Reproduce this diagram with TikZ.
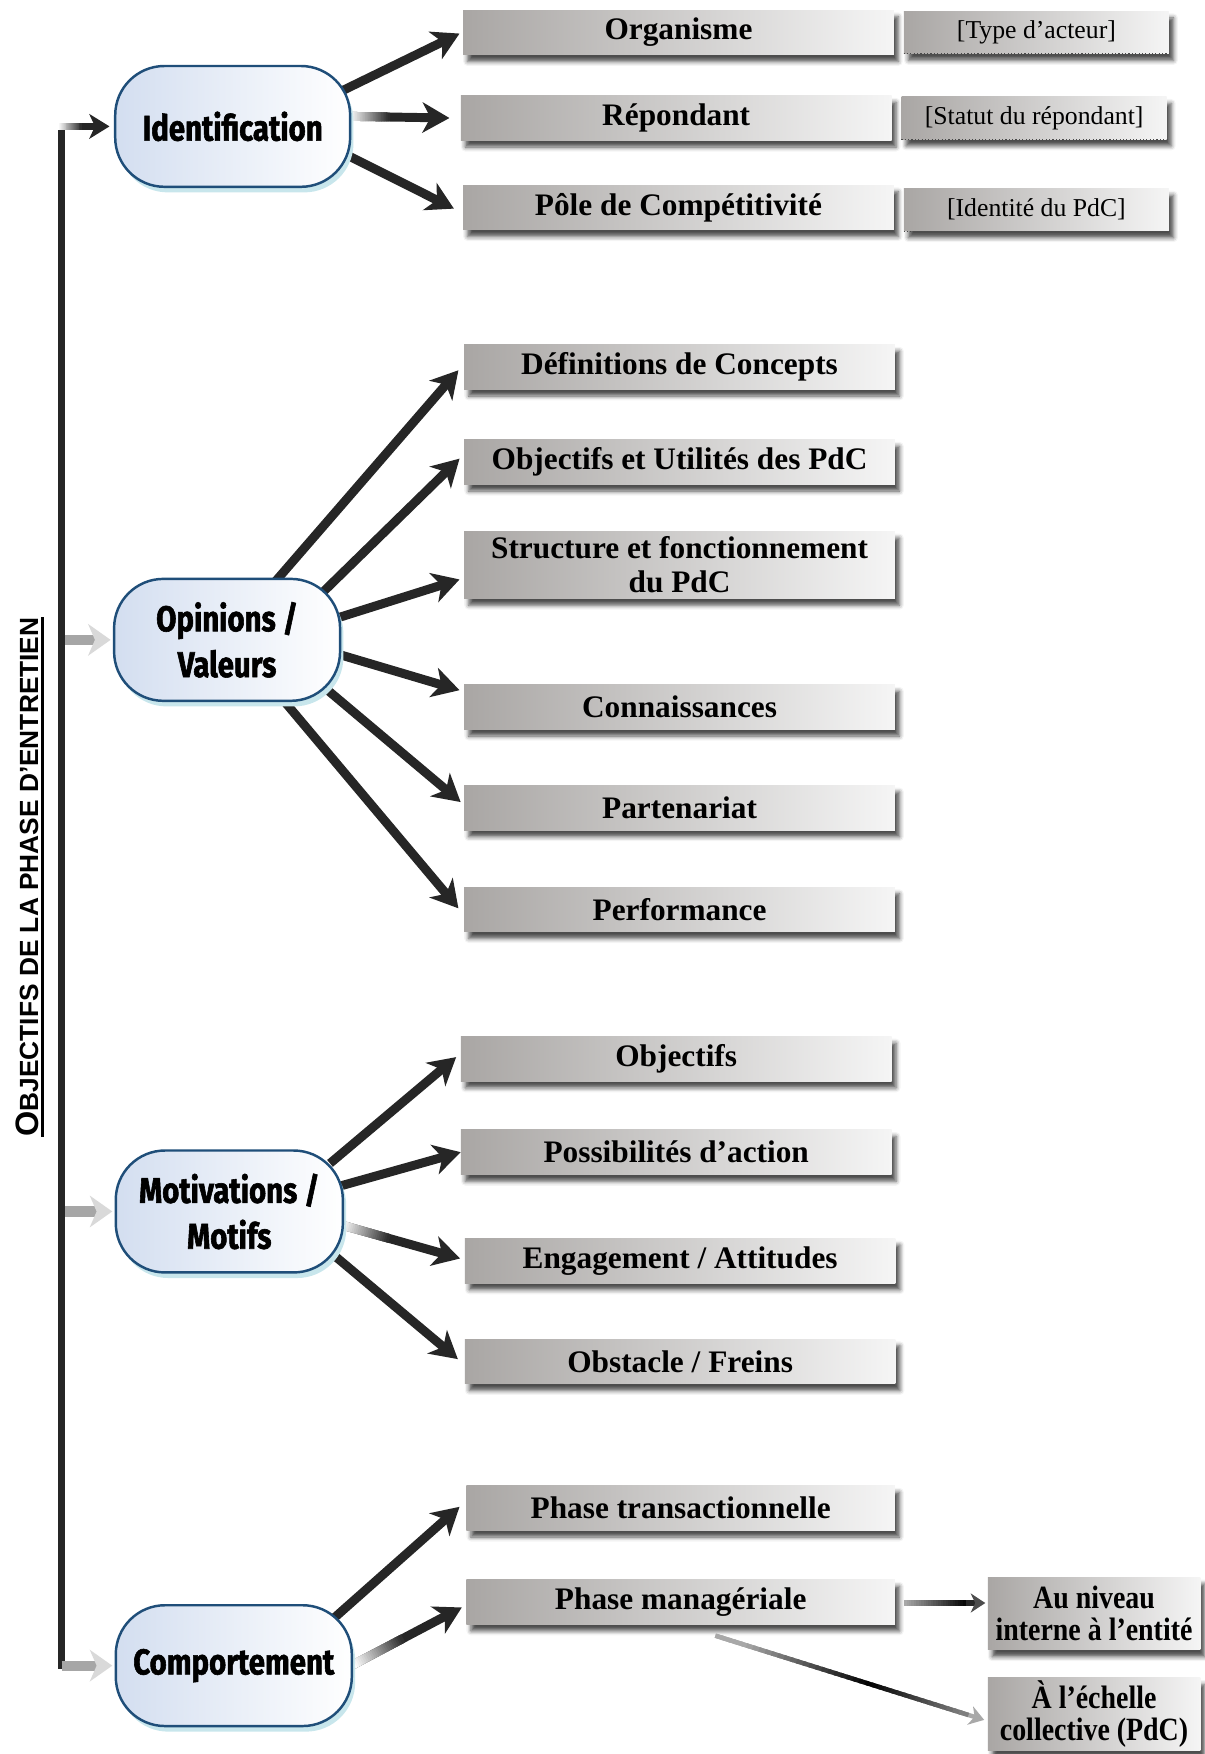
\documentclass[tikz,border=0pt]{standalone}
\usepackage{fontspec}
\setmainfont{Liberation Serif}
\newfontfamily\blufont{Fira Sans}[FakeStretch=0.82, FakeBold=1.6]
\newfontfamily\vtfont{Liberation Sans}
\newfontfamily\condserif{Liberation Serif}[FakeStretch=0.86]
\usetikzlibrary{arrows.meta,calc,shadows.blur,backgrounds}
\definecolor{arrowc}{HTML}{262626}
\definecolor{boxl}{HTML}{A9A6A4}
\definecolor{boxr}{HTML}{F5F5F5}
\definecolor{nodeb}{HTML}{1F4E79}
\definecolor{nodel}{HTML}{D3DEF0}
\definecolor{glow}{HTML}{C8E6EC}
\definecolor{stubc}{HTML}{A6A6A6}
\definecolor{lgr}{HTML}{A8A8A8}
\tikzset{
  graybox/.style={left color=boxl, right color=boxr, minimum width=385pt, minimum height=40pt,
    inner sep=0pt, align=center, font=\fontsize{28}{30}\selectfont\bfseries,
    blur shadow={shadow xshift=4pt, shadow yshift=-6pt, shadow blur radius=4pt, shadow opacity=70}},
  tagbox/.style={graybox, minimum width=237pt, minimum height=38pt, font=\fontsize{23}{25}\selectfont},
  sidebox/.style={graybox, minimum width=190pt, minimum height=65pt, font=\condserif\bfseries\fontsize{29}{29}\selectfont},
  blunode/.style={draw=nodeb, line width=2.2pt, rounded corners=44pt, left color=nodel, right color=white,
    preaction={fill=glow, transform canvas={xshift=3pt, yshift=-5pt}},
    font=\blufont\bfseries\fontsize{32}{41}\selectfont, align=center, inner sep=0pt},
  arr/.style={line width=8pt, draw=arrowc, -{Stealth[length=24pt, width=27pt, inset=7pt]}},
  gstub/.style={line width=9pt, draw=stubc, -{Stealth[length=20pt, width=28pt, inset=6pt, color=gray!30]}},
  trunk/.style={line width=6pt, draw=arrowc},
}
\newcommand\gradseg[6]{%
  \foreach \k in {0,...,24}{%
    \pgfmathsetmacro\gA{#3*\k/25}%
    \pgfmathsetmacro\gB{#3*(\k+1.5)/25}%
    \pgfmathtruncatemacro\gC{4*\k}%
    \draw[line width=#6, draw=#5!\gC!#4] ($(#1)!\gA!(#2)$) -- ($(#1)!\gB!(#2)$);}}
\begin{document}
\begin{tikzpicture}[x=1pt,y=-1pt]
\useasboundingbox (0,0) rectangle (1077,1568);

% blue category nodes
\node[blunode, minimum width=210pt, minimum height=108pt] (idn) at (208,113) {Identification};
\node[blunode, minimum width=202pt, minimum height=109pt] (opv) at (203,572) {Opinions /\\Valeurs};
\node[blunode, minimum width=203pt, minimum height=109pt] (mot) at (205,1083) {Motivations /\\Motifs};
\node[blunode, minimum width=211pt, minimum height=108pt] (com) at (209,1489) {Comportement};

% identification boxes
\node[graybox] (org) at (606.5,29) {Organisme};
\node[graybox] (rep) at (604.5,105.5) {Répondant};
\node[graybox] (pole) at (606.5,185.5) {Pôle de Compétitivité};
\node[tagbox] (typ) at (926.5,29) {[Type d’acteur]};
\node[tagbox] (stat) at (924.5,105.5) {[Statut du répondant]};
\node[tagbox] (ide) at (926.5,187.5) {[Identité du PdC]};
\foreach \b in {typ,stat,ide}{\draw[dotted, line width=1pt, draw=black!70] (\b.south west) -- (\b.south east);}

% opinions boxes
\node[graybox] (def) at (607.5,328) {Définitions de Concepts};
\node[graybox] (obj) at (607.5,413) {Objectifs et Utilités des PdC};
\node[graybox, minimum height=60pt] (str) at (607.5,505) {Structure et fonctionnement\\du PdC};
\node[graybox] (con) at (607.5,632) {Connaissances};
\node[graybox] (par) at (607.5,722) {Partenariat};
\node[graybox] (perf) at (607.5,813) {Performance};

% motivations boxes
\node[graybox] (objs) at (604.5,946.5) {Objectifs};
\node[graybox] (poss) at (604.5,1030) {Possibilités d’action};
\node[graybox] (eng) at (608,1127) {Engagement / Attitudes};
\node[graybox] (obs) at (608,1217) {Obstacle / Freins};

% comportement boxes
\node[graybox, minimum width=383pt] (pht) at (608.5,1348) {Phase transactionnelle};
\node[graybox, minimum width=383pt] (phm) at (608.5,1432) {Phase managériale};
\node[sidebox] (aun) at (978,1442.5) {Au niveau\\interne à l’entité};
\node[sidebox] (ech) at (978,1532.5) {À l’échelle\\collective (PdC)};

% vertical title
\node[rotate=90, font=\vtfont\bfseries, inner sep=0pt] (vt) at (24,784)
  {\fontsize{29}{30}\selectfont O\fontsize{23.5}{25}\selectfont BJECTIFS DE LA PHASE D’ENTRETIEN};
\draw[line width=2.4pt] ([xshift=3.5pt]vt.south west) -- ([xshift=3.5pt]vt.south east);

% trunk
\coordinate (tk) at (55,113);
\coordinate (tb) at (55,1489);

\begin{pgfonlayer}{background}
  \draw[trunk] ($(tk)+(0,-3)$) -- ($(tb)+(0,3)$);
  % top stub
  \coordinate (s0s) at ($(tk)+(-3,0)$);
  \coordinate (s0e) at ($(idn.west)+(-4,0)$);
  \draw[line width=6pt, draw=arrowc, -{Stealth[length=18pt, width=22pt, inset=5pt]}] (s0s) -- (s0e);
  \gradseg{s0s}{s0e}{0.45}{white}{arrowc}{6pt}
  % gray stubs
  \draw[gstub] ($(opv.west -| tk)+(3,0)$) -- ($(opv.west)+(-2,0)$);
  \draw[gstub] ($(mot.west -| tk)+(3,0)$) -- ($(mot.west)+(-2,0)$);
  \draw[gstub] ($(com.west -| tk)+(0,0)$) -- ($(com.west)+(-2,0)$);

  % identification arrows
  \draw[arr] ($(idn.center)+(92,-29)$) -- ($(org.west)+(-3,1)$);
  \coordinate (a2s) at ($(idn.center)+(104,-9)$);
  \coordinate (a2e) at ($(rep.west)+(-10,0)$);
  \draw[arr] (a2s) -- (a2e);
  \gradseg{a2s}{a2e}{0.4}{white}{arrowc}{8pt}
  \draw[arr] ($(idn.center)+(97,23)$) -- ($(pole.west)+(-8,1)$);

  % opinions arrows
  \draw[arr] ($(opv.center)+(43,-52)$) -- ($(def.west)+(-5,3)$);
  \draw[arr] ($(opv.center)+(85,-42)$) -- ($(obj.west)+(-4,-3)$);
  \draw[arr] ($(opv.center)+(100,-20)$) -- ($(str.west)+(-4,13)$);
  \draw[arr] ($(opv.center)+(100,13)$) -- ($(con.west)+(-4,-15)$);
  \draw[arr] ($(opv.center)+(84,40)$) -- ($(par.west)+(-3,-5)$);
  \draw[arr] ($(opv.center)+(47,50)$) -- ($(perf.west)+(-5,-1)$);

  % motivations arrows
  \draw[arr] ($(mot.center)+(90,-43)$) -- ($(objs.west)+(-4,-1.5)$);
  \draw[arr] ($(mot.center)+(100,-23)$) -- ($(poss.west)+(0,0)$);
  \coordinate (c3s) at ($(mot.center)+(100,12)$);
  \coordinate (c3e) at ($(eng.west)+(-4,-2)$);
  \draw[arr] (c3s) -- (c3e);
  \gradseg{c3s}{c3e}{0.4}{white}{arrowc}{8pt}
  \draw[arr] ($(mot.center)+(91,37)$) -- ($(obs.west)+(-6,-2)$);

  % comportement arrows
  \draw[arr] ($(com.center)+(89,-42)$) -- ($(pht.west)+(-6,-1)$);
  \coordinate (d2s) at ($(com.center)+(107,-1)$);
  \coordinate (d2e) at ($(phm.west)+(-4,5)$);
  \draw[arr] (d2s) -- (d2e);
  \gradseg{d2s}{d2e}{0.45}{white}{arrowc}{8pt}
\end{pgfonlayer}

% phase manageriale arrows
\coordinate (e1s) at ($(phm.east)+(8,1)$);
\coordinate (e1e) at ($(aun.west)+(-2,-9.5)$);
\draw[line width=4.5pt, draw=arrowc, -{Stealth[length=13pt, width=17pt, inset=4pt, color=black!70]}] (e1s) -- (e1e);
\gradseg{e1s}{e1e}{0.75}{lgr}{black}{4.5pt}
\coordinate (e2s) at ($(phm.south)+(31,10)$);
\coordinate (e2e) at ($(ech.west)+(-3,5)$);
\draw[line width=4pt, draw=lgr, -{Stealth[length=13pt, width=17pt, inset=4pt, color=lgr]}] (e2s) -- (e2e);
\foreach \k in {0,...,39}{%
  \pgfmathsetmacro\gA{0.93*\k/40}%
  \pgfmathsetmacro\gB{0.93*(\k+1.5)/40}%
  \pgfmathtruncatemacro\gC{max(0,100*(1-abs(\k/40-0.6)/0.5))}%
  \draw[line width=4pt, draw=black!\gC!lgr] ($(e2s)!\gA!(e2e)$) -- ($(e2s)!\gB!(e2e)$);}
\end{tikzpicture}
\end{document}
